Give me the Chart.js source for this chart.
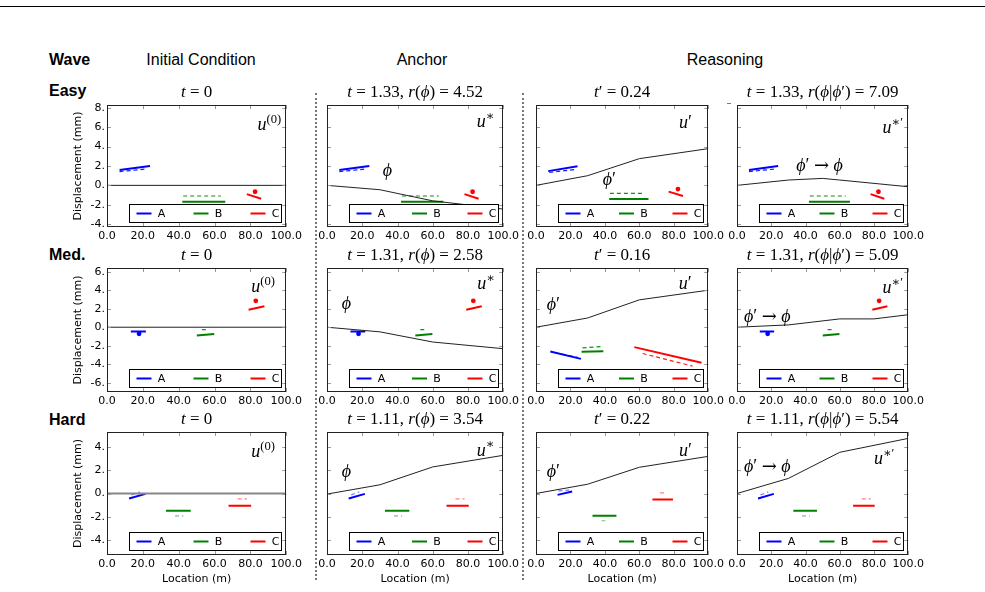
<!DOCTYPE html>
<html>
<head>
<meta charset="utf-8">
<script src="https://cdn.jsdelivr.net/npm/chart.js@4.4.1/dist/chart.umd.min.js"></script>
<style>
  body { margin: 0; width: 985px; height: 592px; background: #fff; position: relative; overflow: hidden;
         font-family: "Liberation Sans", Arial, sans-serif; }
  .hdr { position: absolute; font-size: 16px; line-height: 20px; white-space: nowrap; color: #000; }
  .bold { font-weight: bold; }
  .center { transform: translateX(-50%); }
  canvas.panel { position: absolute; }
  .sep { position: absolute; width: 0; border-left: 2px dotted #777; top: 93px; height: 487px; }
</style>
</head>
<body>
<div style="position:absolute;left:0;top:6px;width:985px;height:1px;background:#000"></div>
<div class="hdr bold" style="left:49px;top:50px">Wave</div>
<div class="hdr center" style="left:201px;top:50px">Initial Condition</div>
<div class="hdr center" style="left:422px;top:50px">Anchor</div>
<div class="hdr center" style="left:725px;top:50px">Reasoning</div>
<div class="hdr bold" style="left:49px;top:81px">Easy</div>
<div class="hdr bold" style="left:49px;top:245px">Med.</div>
<div class="hdr bold" style="left:49px;top:410px">Hard</div>
<div class="sep" style="left:315px"></div>
<div class="sep" style="left:522px"></div>
<div style="position:absolute;left:727px;top:103px;width:4px;height:1px;background:#777"></div>

<script>
// 1. DATA
const xTicks = [0, 20, 40, 60, 80, 100];
const yTicksEasy = [-4, -2, 0, 2, 4, 6, 8];
const yTicksMed = [-6, -4, -2, 0, 2, 4, 6];
const yTicksHard = [-4, -2, 0, 2, 4];
const sensorNames = ['A', 'B', 'C'];

const titlesEasy = ['t = 0', 't = 1.33, r(ϕ) = 4.52', 't′ = 0.24', 't = 1.33, r(ϕ|ϕ′) = 7.09'];
const titlesMed = ['t = 0', 't = 1.31, r(ϕ) = 2.58', 't′ = 0.16', 't = 1.31, r(ϕ|ϕ′) = 5.09'];
const titlesHard = ['t = 0', 't = 1.11, r(ϕ) = 3.54', 't′ = 0.22', 't = 1.11, r(ϕ|ϕ′) = 5.54'];

// wave field (location m -> displacement mm)
const flatX = [0, 100], flatY = [0, 0];
const easyAnchorX = [0, 30, 60, 100], easyAnchorY = [0, -0.45, -1.6, -2.45];
const easyPrimeX = [0, 30, 60, 100], easyPrimeY = [0, 1.0, 2.76, 3.79];
const easyReasonX = [0, 30, 50, 60, 100], easyReasonY = [0, 0.55, 0.72, 0.55, -0.14];
const medAnchorX = [0, 30, 60, 100], medAnchorY = [0, -0.5, -1.6, -2.32];
const medPrimeX = [0, 30, 60, 100], medPrimeY = [0, 1.0, 2.96, 4.0];
const medReasonX = [0, 30, 60, 80, 100], medReasonY = [0, 0.25, 0.9, 0.9, 1.35];
const hardAnchorX = [0, 30, 60, 100], hardAnchorY = [-0.05, 0.75, 2.29, 3.29];
const hardPrimeX = [0, 30, 60, 100], hardPrimeY = [0, 0.8, 2.26, 3.2];
const hardReasonX = [0, 30, 60, 100], hardReasonY = [0, 1.3, 3.55, 4.75];

// sensor segments A, B, C: [x0, y0, x1, y1]
const easySolid = [[7, 1.59, 24, 2.0], [42, -1.69, 66, -1.69], [78, -0.9, 86, -1.38]];
const easyDashed = [[7, 1.42, 22, 1.69], [42.5, -1.1, 63.5, -1.1], null];
const easyDots = [null, null, [82.6, -0.66]];
const easyPrimeSolid = [[7.1, 1.47, 24.1, 1.98], [42.5, -1.4, 65.3, -1.4], [77, -0.65, 85.3, -1.09]];
const easyPrimeDashed = [[7.7, 1.33, 22.6, 1.64], [42.9, -0.82, 63.1, -0.82], null];
const easyPrimeDots = [null, null, [82.4, -0.38]];

const medSolid = [[13.3, -0.46, 21.7, -0.46], [50.1, -0.9, 59.8, -0.72], [79, 1.88, 87.8, 2.27]];
const medDashed = [null, [52.9, -0.25, 55.7, -0.25], null];
const medDots = [[17.9, -0.71], null, [83, 2.85]];
const medPrimeSolid = [[8.3, -2.63, 26.1, -3.42], [26.5, -2.66, 39.1, -2.59], [57.1, -2.15, 96.1, -3.84]];
const medPrimeDashed = [[15, -2.9, 24, -3.25], [27, -2.23, 37.7, -2.1], [61.9, -2.84, 90.9, -4.2]];
const medPrimeDots = [null, null, null];

const hardSolid = [[12.3, -0.43, 21.5, -0.03], [32.9, -1.48, 46.7, -1.48], [67.8, -1.06, 80.4, -1.06]];
const hardDashed = [[13.7, -0.12, 18.3, 0.14], [38, -1.92, 42.6, -1.92], [72.9, -0.46, 78.1, -0.46]];
const hardDots = [null, null, null];
const hardPrimeSolid = [[12.5, -0.12, 21, 0.17], [32.8, -1.91, 46.7, -1.91], [67.6, -0.52, 79.5, -0.52]];
const hardPrimeDashed = [[13, 0.22, 19.5, 0.3], [38, -2.35, 42, -2.35], [72, 0.06, 76, 0.06]];
const hardPrimeDots = [null, null, null];

// 2. LAYOUT
const colLeft = [107, 327, 536, 737], colRight = [287, 504, 709, 909];
const rowTop = [105, 268, 432], rowBottom = [227, 392, 555];
const yMin = [-4.3, -7, -5.3], yMax = [8.3, 6.4, 5.3];
const rowYTicks = [yTicksEasy, yTicksMed, yTicksHard];
const rowTitles = [titlesEasy, titlesMed, titlesHard];
const sensorColors = ['0,0,255', '0,128,0', '255,0,0'];
const dashAlpha = [0.9, 0.9, 0.5];

const rowFields = [
  [[flatX, flatY], [easyAnchorX, easyAnchorY], [easyPrimeX, easyPrimeY], [easyReasonX, easyReasonY]],
  [[flatX, flatY], [medAnchorX, medAnchorY], [medPrimeX, medPrimeY], [medReasonX, medReasonY]],
  [[flatX, flatY], [hardAnchorX, hardAnchorY], [hardPrimeX, hardPrimeY], [hardReasonX, hardReasonY]]
];
const rowObs = [
  [easySolid, easyDashed, easyDots], [medSolid, medDashed, medDots], [hardSolid, hardDashed, hardDots]
];
const rowPrimeObs = [
  [easyPrimeSolid, easyPrimeDashed, easyPrimeDots], [medPrimeSolid, medPrimeDashed, medPrimeDots],
  [hardPrimeSolid, hardPrimeDashed, hardPrimeDots]
];

// in-plot labels: [text, x (m), y (mm)]
const notes = [
  [[['u^{(0)}', 84, 6.2]], [['u^{∗}', 85, 6.5], ['ϕ', 31.6, 1.4]], [['u′', 83, 6.4], ['ϕ′', 38.7, 0.55]], [['u^{∗′}', 85, 5.9], ['ϕ′ → ϕ', 34.6, 1.9]]],
  [[['u^{(0)}', 80.5, 4.25]], [['u^{∗}', 85.3, 4.6], ['ϕ', 8.3, 2.45]], [['u′', 82.8, 4.6], ['ϕ′', 6.2, 2.35]], [['u^{∗′}', 85, 4.2], ['ϕ′ → ϕ', 4.1, 1.05]]],
  [[['u^{(0)}', 80.5, 3.5]], [['u^{∗}', 85, 3.65], ['ϕ', 8.3, 1.8]], [['u′', 83, 3.65], ['ϕ′', 6.2, 1.8]], [['u^{∗′}', 80, 2.9], ['ϕ′ → ϕ', 4.1, 2.25]]]
];

// 3. MATH TEXT
function mathPieces(str) {
  const out = [];
  let i = 0;
  while (i < str.length) {
    if (str[i] === '^' && str[i + 1] === '{') {
      const j = str.indexOf('}', i);
      for (const ch of str.slice(i + 2, j)) out.push({ ch, sup: true });
      i = j + 1;
    } else { out.push({ ch: str[i], sup: false }); i++; }
  }
  return out;
}
function drawMath(ctx, str, x, y, size, align) {
  const pieces = mathPieces(str);
  const fontFor = p => {
    const s = p.sup ? size * 0.7 : size;
    const it = /[a-zϕ]/.test(p.ch) ? 'italic ' : '';
    const fam = p.ch === '→' ? '"DejaVu Serif", serif' : '"Liberation Serif", "DejaVu Serif", serif';
    return it + s + 'px ' + fam;
  };
  let w = 0;
  pieces.forEach(p => { ctx.font = fontFor(p); p.w = ctx.measureText(p.ch).width; w += p.w; });
  let cx = align === 'center' ? x - w / 2 : x;
  ctx.textAlign = 'left';
  ctx.textBaseline = 'alphabetic';
  ctx.fillStyle = '#000';
  pieces.forEach(p => {
    ctx.font = fontFor(p);
    ctx.fillText(p.ch, cx, p.sup ? y - size * 0.4 : y);
    cx += p.w;
  });
}

// 4. PANELS
function segData(s) { return [{ x: s[0], y: s[1] }, { x: s[2], y: s[3] }]; }

function buildPanel(row, col) {
  const L = col === 0 ? 35 : 12, R = 18, T = 28, B = row === 2 ? 31 : 20;
  const w = colRight[col] - colLeft[col], h = rowBottom[row] - rowTop[row];
  const cv = document.createElement('canvas');
  cv.className = 'panel';
  cv.width = w + L + R; cv.height = h + T + B;
  cv.style.left = (colLeft[col] - L) + 'px';
  cv.style.top = (rowTop[row] - T) + 'px';
  cv.style.width = cv.width + 'px'; cv.style.height = cv.height + 'px';
  document.body.appendChild(cv);

  const [fx, fy] = rowFields[row][col];
  const [solid, dashed, dots] = col === 2 ? rowPrimeObs[row] : rowObs[row];
  const flatGrey = row === 2 && col === 0;

  const datasets = [{
    data: fx.map((x, i) => ({ x, y: fy[i] })),
    borderColor: flatGrey ? '#888' : '#222', borderWidth: flatGrey ? 2 : 1, pointRadius: 0
  }];
  sensorNames.forEach((n, i) => {
    const c = sensorColors[i];
    if (dashed[i]) datasets.push({ data: segData(dashed[i]), borderColor: `rgba(${c},${dashAlpha[row]})`,
      borderWidth: 1.2, borderDash: [4, 3], pointRadius: 0 });
    if (solid[i]) datasets.push({ data: segData(solid[i]), borderColor: `rgb(${c})`, borderWidth: 2, pointRadius: 0 });
    if (dots[i]) datasets.push({ data: [{ x: dots[i][0], y: dots[i][1] }], showLine: false,
      pointRadius: 2.4, pointBackgroundColor: `rgb(${c})`, pointBorderWidth: 0 });
  });

  const deco = {
    id: 'deco',
    afterDraw(chart) {
      const { ctx, chartArea: a, scales: { x, y } } = chart;
      ctx.save();
      // inward ticks
      ctx.strokeStyle = '#999'; ctx.lineWidth = 1;
      ctx.beginPath();
      x.ticks.forEach(t => {
        const px = Math.round(x.getPixelForValue(t.value)) + 0.5;
        ctx.moveTo(px, a.bottom); ctx.lineTo(px, a.bottom - 4);
        ctx.moveTo(px, a.top); ctx.lineTo(px, a.top + 4);
      });
      y.ticks.forEach(t => {
        const py = Math.round(y.getPixelForValue(t.value)) + 0.5;
        ctx.moveTo(a.left, py); ctx.lineTo(a.left + 4, py);
        ctx.moveTo(a.right, py); ctx.lineTo(a.right - 4, py);
      });
      ctx.stroke();
      // frame
      ctx.strokeStyle = '#222';
      ctx.strokeRect(Math.round(a.left) + 0.5, Math.round(a.top) + 0.5, Math.round(a.width) - 1, Math.round(a.height) - 1);
      // in-plot labels
      notes[row][col].forEach(([txt, nx, ny]) => {
        drawMath(ctx, txt, x.getPixelForValue(nx), y.getPixelForValue(ny) + 18 * 0.25, 18, 'left');
      });
      // legend
      const lx = Math.round(a.left + 22) + 0.5, rx = Math.round(a.right - 5) + 0.5;
      const by = Math.round(a.bottom - 5) + 0.5, ty = by - 18;
      ctx.fillStyle = '#fff';
      ctx.fillRect(lx, ty, rx - lx, by - ty);
      ctx.strokeStyle = '#000'; ctx.lineWidth = 1;
      ctx.strokeRect(lx, ty, rx - lx, by - ty);
      const step = (rx - lx - 38) / 2, my = (ty + by) / 2;
      ctx.font = '11px "DejaVu Sans", sans-serif';
      ctx.textBaseline = 'middle'; ctx.textAlign = 'center';
      sensorNames.forEach((n, i) => {
        const sx = lx + 7 + step * i;
        ctx.strokeStyle = `rgb(${sensorColors[i]})`; ctx.lineWidth = 2;
        ctx.beginPath(); ctx.moveTo(sx, my); ctx.lineTo(sx + 15, my); ctx.stroke();
        ctx.fillStyle = '#000';
        ctx.fillText(n, sx + 25, my + 0.5);
      });
      // title
      drawMath(ctx, rowTitles[row][col], (a.left + a.right) / 2, a.top - 8, 17, 'center');
      ctx.restore();
    }
  };

  const tickFont = { family: 'DejaVu Sans', size: 11 };
  new Chart(cv.getContext('2d'), {
    type: 'line',
    data: { datasets },
    options: {
      responsive: false, animation: false,
      layout: { padding: { top: T, right: R, left: 0, bottom: 0 } },
      plugins: { legend: { display: false }, tooltip: { enabled: false } },
      scales: {
        x: {
          type: 'linear', min: 0, max: 100,
          afterBuildTicks: s => { s.ticks = xTicks.map(v => ({ value: v })); },
          afterFit: s => { s.height = B; },
          grid: { display: false, drawTicks: false }, border: { display: false },
          ticks: { padding: 3, color: '#000', font: tickFont, maxRotation: 0, autoSkip: false,
                   callback: v => Number(v).toFixed(1) },
          title: { display: row === 2, text: 'Location (m)', padding: 0, color: '#000', font: tickFont }
        },
        y: {
          type: 'linear', min: yMin[row], max: yMax[row],
          afterBuildTicks: s => { s.ticks = rowYTicks[row].map(v => ({ value: v })); },
          afterFit: s => { s.width = L; },
          grid: { display: false, drawTicks: false }, border: { display: false },
          ticks: { display: col === 0, padding: 2, color: '#000', font: tickFont, callback: v => v + '.' },
          title: { display: col === 0, text: 'Displacement (mm)', padding: 0, color: '#000', font: tickFont }
        }
      }
    },
    plugins: [deco]
  });
}

for (let r = 0; r < 3; r++) for (let c = 0; c < 4; c++) buildPanel(r, c);
</script>
</body>
</html>
